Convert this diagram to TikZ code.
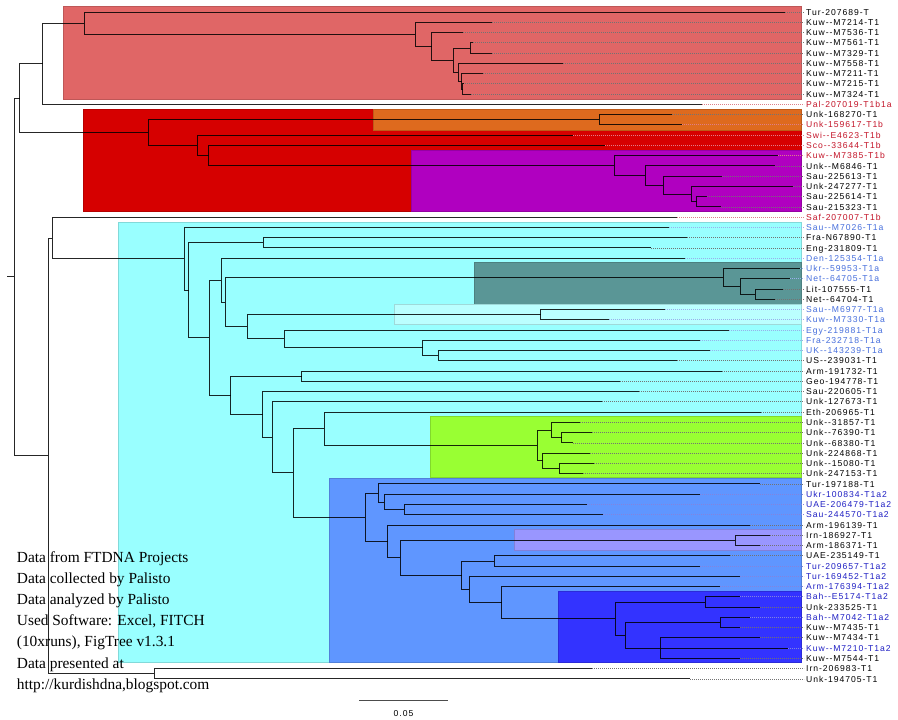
\documentclass[tikz,border=0pt]{standalone}
\usepackage{fontspec}
\setmainfont{Liberation Serif}
\newfontfamily\lblfont[LetterSpace=11]{Liberation Sans}
\usetikzlibrary{positioning}
\definecolor{salmon}{RGB}{224,102,102}
\definecolor{cladered}{RGB}{214,0,0}
\definecolor{cladeorange}{RGB}{222,106,30}
\definecolor{clademagenta}{RGB}{176,0,192}
\definecolor{cladecyan}{RGB}{153,255,255}
\definecolor{cladeteal}{RGB}{90,150,150}
\definecolor{cladelcyan}{RGB}{187,255,255}
\definecolor{cladegreen}{RGB}{153,255,51}
\definecolor{cladeblue}{RGB}{95,150,255}
\definecolor{cladelav}{RGB}{153,150,255}
\definecolor{cladedkblue}{RGB}{51,51,255}
\definecolor{tk}{RGB}{0,0,0}
\definecolor{tr}{RGB}{195,20,40}
\definecolor{ta}{RGB}{70,110,220}
\definecolor{tb}{RGB}{30,30,195}
\tikzstyle{branch}=[draw=black, line width=1pt, opacity=0.85]
\tikzstyle{leafdot}=[dash pattern=on 0.8pt off 1.2pt, line width=0.8pt, shorten >=2pt]
\tikzstyle{leaf}=[anchor=base west, inner sep=0pt, font={\fontsize{8.6}{10}\lblfont}]
\tikzstyle{note}=[anchor=base west, inner sep=0pt, font={\fontsize{15.4}{21}\selectfont}]

\begin{document}
\begin{tikzpicture}[x=1pt,y=-1pt]
\useasboundingbox (0,0) rectangle (898,720);

\foreach \xa/\ya/\yb/\cl in {63.3/6.7/99.3/salmon, 83.7/109/211.7/cladered,
    373.3/109/130/cladeorange, 411.7/150.7/211.7/clademagenta,
    118.3/222.3/662.3/cladecyan, 474/262.7/304/cladeteal,
    394.3/304.3/324.3/cladelcyan, 430.7/416.7/477.7/cladegreen,
    329.3/478.3/662.3/cladeblue, 514.3/529.3/550/cladelav,
    558.3/591/662.3/cladedkblue}
  \fill[\cl, draw=\cl!85!black, line width=0.6pt] (\xa,\ya) rectangle (801.7,\yb);

\foreach \r/\xe/\nm/\cl in {1/785/Tur-207689-T/tk, 2/492/Kuw-{}-M7214-T1/tk,
    3/463/Kuw-{}-M7536-T1/tk, 4/473/Kuw-{}-M7561-T1/tk, 5/492/Kuw-{}-M7329-T1/tk,
    6/563/Kuw-{}-M7558-T1/tk, 7/483/Kuw-{}-M7211-T1/tk, 8/463/Kuw-{}-M7215-T1/tk,
    9/471/Kuw-{}-M7324-T1/tk, 10/702/Pal-207019-T1b1a/tr, 11/672/Unk-168270-T1/tk,
    12/682/Unk-159617-T1b/tr, 13/573/Swi-{}-E4623-T1b/tr, 14/605/Sco-{}-33644-T1b/tr,
    15/778/Kuw-{}-M7385-T1b/tr, 16/775/Unk-{}-M6846-T1/tk, 17/722/Sau-225613-T1/tk,
    18/793/Unk-247277-T1/tk, 19/707/Sau-225614-T1/tk, 20/721/Sau-215323-T1/tk,
    21/677/Saf-207007-T1b/tr, 22/669/Sau-{}-M7026-T1a/ta, 23/687/Fra-N67890-T1/tk,
    24/651/Eng-231809-T1/tk, 25/685/Den-125354-T1a/ta, 26/800/Ukr-{}-59953-T1a/ta,
    27/790/Net-{}-64705-T1a/ta, 28/783/Lit-107555-T1/tk, 29/775/Net-{}-64704-T1/tk,
    30/665/Sau-{}-M6977-T1a/ta, 31/609/Kuw-{}-M7330-T1a/ta, 32/729/Egy-219881-T1a/ta,
    33/700/Fra-232718-T1a/ta, 34/710/UK-{}-143239-T1a/ta, 35/677/US-{}-239031-T1/tk,
    36/722/Arm-191732-T1/tk, 37/620/Geo-194778-T1/tk, 38/639/Sau-220605-T1/tk,
    39/602/Unk-127673-T1/tk, 40/761/Eth-206965-T1/tk, 41/580/Unk-{}-31857-T1/tk,
    42/592/Unk-{}-76390-T1/tk, 43/573/Unk-{}-68380-T1/tk, 44/590/Unk-224868-T1/tk,
    45/594/Unk-{}-15080-T1/tk, 46/583/Unk-247153-T1/tk, 47/760/Tur-197188-T1/tk,
    48/700/Ukr-100834-T1a2/tb, 49/587/UAE-206479-T1a2/tb, 50/603/Sau-244570-T1a2/tb,
    51/750/Arm-196139-T1/tk, 52/770/Irn-186927-T1/tk, 53/760/Arm-186371-T1/tk,
    54/730/UAE-235149-T1/tk, 55/700/Tur-209657-T1a2/tb, 56/740/Tur-169452-T1a2/tb,
    57/720/Arm-176394-T1a2/tb, 58/740/Bah-{}-E5174-T1a2/tb, 59/760/Unk-233525-T1/tk,
    60/750/Bah-{}-M7042-T1a2/tb, 61/740/Kuw-{}-M7435-T1/tk, 62/760/Kuw-{}-M7434-T1/tk,
    63/788/Kuw-{}-M7210-T1a2/tb, 64/740/Kuw-{}-M7544-T1/tk, 65/592/Irn-206983-T1/tk,
    66/690/Unk-194705-T1/tk}
{
  \pgfmathsetmacro\yy{12+(\r-1)*10.26}
  \coordinate (l\r) at (\xe,\yy);
  \node[leaf, text=\cl] (t\r) at (806,\yy+3.1) {\nm};
  \draw[leafdot, \cl!55] (l\r) -- (t\r.west |- l\r);
}

\coordinate (rt) at (7,276.5);
\coordinate (root) at (14,276.5);
\coordinate (A) at (19.7,98);
\coordinate (C) at (42.7,63.7);
\coordinate (D) at (84.3,23.3);
\coordinate (E) at (415,34.3);
\coordinate (E1) at (431.7,46.2);
\coordinate (E2) at (453.3,60.2);
\coordinate (E3) at (470,48);
\coordinate (E4) at (458.3,72.2);
\coordinate (E5) at (461.7,81.3);
\coordinate (E6) at (462.5,89);
\coordinate (F) at (148.3,132.4);
\coordinate (G) at (599.3,119.7);
\coordinate (H) at (197.3,145.2);
\coordinate (H1) at (208.7,155.4);
\coordinate (H2) at (614,165.5);
\coordinate (H3) at (645,175.4);
\coordinate (H4) at (663.3,185.1);
\coordinate (H5) at (691,194.1);
\coordinate (H6) at (696.7,201.8);
\coordinate (B) at (48.3,455.5);
\coordinate (Z) at (154.3,673.7);
\coordinate (K) at (52.3,238);
\coordinate (L) at (184.3,258.8);
\coordinate (M) at (188.7,290.2);
\coordinate (M1) at (263.3,242.8);
\coordinate (N) at (209.3,337.6);
\coordinate (P) at (221,280.1);
\coordinate (P1) at (225.3,302);
\coordinate (P2) at (723.3,277.5);
\coordinate (P3) at (740,286.4);
\coordinate (P4) at (755,294.2);
\coordinate (P5) at (247.3,326.7);
\coordinate (P6) at (540.7,314.5);
\coordinate (P7) at (284.3,338.8);
\coordinate (P8) at (422.7,347.8);
\coordinate (P9) at (438.3,355.6);
\coordinate (Q) at (230.7,395.2);
\coordinate (Q1) at (301.7,376.2);
\coordinate (R) at (262.7,414.4);
\coordinate (S) at (272,437.3);
\coordinate (T) at (293.3,472.8);
\coordinate (U) at (324.3,428.7);
\coordinate (G1) at (537.3,445.4);
\coordinate (G2) at (551,430);
\coordinate (G3) at (561.7,437.8);
\coordinate (G4) at (542.7,460.8);
\coordinate (G5) at (559,468.6);
\coordinate (V) at (365,517);
\coordinate (V1) at (378.3,493);
\coordinate (V2) at (384.3,502);
\coordinate (V3) at (404,509.8);
\coordinate (W) at (387.7,541.3);
\coordinate (W1) at (400.3,557.7);
\coordinate (W2) at (735,540.6);
\coordinate (X) at (461.7,575.3);
\coordinate (X1) at (494.3,561.1);
\coordinate (Y) at (469.3,589.6);
\coordinate (Y1) at (501.7,602.8);
\coordinate (DB) at (615,618.9);
\coordinate (DB1) at (705,602.2);
\coordinate (DB2) at (625,635.6);
\coordinate (DB3) at (720,622.8);
\coordinate (DB4) at (660,648.4);

\draw[branch] (rt) -- (root);
\foreach \p/\c in {root/A, root/B, A/C, A/F, C/D, C/l10, D/l1, D/E,
    E/l2, E/E1, E1/l3, E1/E2, E2/E3, E2/E4, E3/l4, E3/l5, E4/l6, E4/E5,
    E5/l7, E5/E6, E6/l8, E6/l9, F/G, F/H, G/l11, G/l12, H/l13, H/H1,
    H1/l14, H1/H2, H2/l15, H2/H3, H3/l16, H3/H4, H4/l17, H4/H5,
    H5/l18, H5/H6, H6/l19, H6/l20, B/K, B/Z, Z/l65, Z/l66, K/l21, K/L,
    L/l22, L/M, M/M1, M/N, M1/l23, M1/l24, N/P, N/Q, P/l25, P/P1,
    P1/P2, P1/P5, P2/l26, P2/P3, P3/l27, P3/P4, P4/l28, P4/l29,
    P5/P6, P5/P7, P6/l30, P6/l31, P7/l32, P7/P8, P8/l33, P8/P9,
    P9/l34, P9/l35, Q/Q1, Q/R, Q1/l36, Q1/l37, R/l38, R/S, S/l39, S/T,
    T/U, T/V, U/l40, U/G1, G1/G2, G1/G4, G2/l41, G2/G3, G3/l42, G3/l43,
    G4/l44, G4/G5, G5/l45, G5/l46, V/V1, V/W, V1/l47, V1/V2, V2/l48, V2/V3,
    V3/l49, V3/l50, W/l51, W/W1, W1/W2, W1/X, W2/l52, W2/l53, X/X1, X/Y,
    X1/l54, X1/l55, Y/l56, Y/Y1, Y1/l57, Y1/DB, DB/DB1, DB/DB2,
    DB1/l58, DB1/l59, DB2/DB3, DB2/DB4, DB3/l60, DB3/l61,
    DB4/l62, DB4/l63, DB4/l64}
  \draw[branch] (\p) |- (\c);

\foreach \k/\txt in {0/Data from FTDNA Projects, 1/Data collected by Palisto,
    2/Data analyzed by Palisto, 3/{Used Software: Excel, FITCH},
    4/{(10xruns), FigTree v1.3.1}, 5/Data presented at,
    6/{http://kurdishdna,blogspot.com}}
  \node[note] (info\k) at (16.7,562.5+21.1*\k) {\txt};

\coordinate (sba) at (359.3,700);
\coordinate (sbb) at (447.7,700);
\draw[line width=1pt, black!70] (sba) -- (sbb);
\node[leaf, anchor=base] (sbl) at (403.5,716.5) {0.05};
\end{tikzpicture}
\end{document}
